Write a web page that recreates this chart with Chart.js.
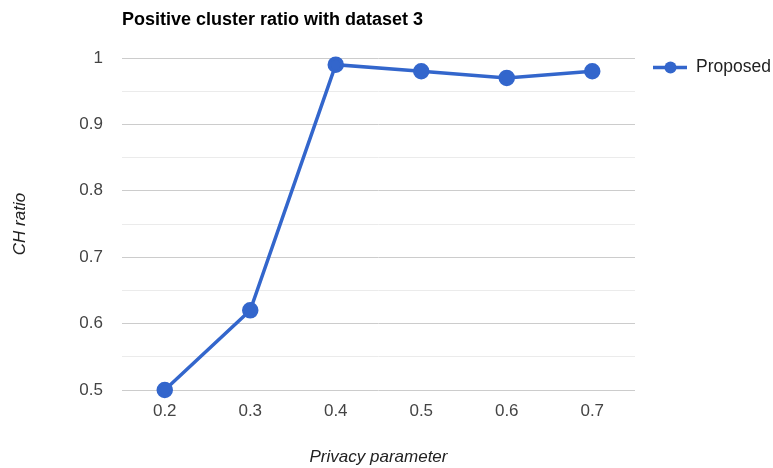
<!DOCTYPE html>
<html>
<head>
<meta charset="utf-8">
<script src="https://cdn.jsdelivr.net/npm/chart.js@4"></script>
<style>
  html, body { margin: 0; padding: 0; background: #fff; }
  #wrap { width: 773px; height: 468px; }
</style>
</head>
<body>
<div id="wrap"><canvas id="myChart"></canvas></div>
<script>
const categories = ['0.2', '0.3', '0.4', '0.5', '0.6', '0.7'];
const proposed = [0.5, 0.62, 0.99, 0.98, 0.97, 0.98];
const chartTitle = 'Positive cluster ratio with dataset 3';
const xTitle = 'Privacy parameter';
const yTitle = 'CH ratio';

// title + legend drawn by hand, google-charts style
const extras = {
    id: 'extras',
    afterDraw(chart) {
        const c = chart.ctx;
        const area = chart.chartArea;
        c.save();
        c.fillStyle = '#000';
        c.font = 'bold 18px Arial';
        c.textBaseline = 'middle';
        c.textAlign = 'left';
        c.fillText(chartTitle, area.left, 20);

        const ds = chart.data.datasets[0];
        const ly = 67.5;
        c.strokeStyle = ds.borderColor;
        c.lineWidth = 3.5;
        c.beginPath();
        c.moveTo(653, ly);
        c.lineTo(687, ly);
        c.stroke();
        c.fillStyle = ds.borderColor;
        c.beginPath();
        c.arc(670.5, ly, 6, 0, Math.PI * 2);
        c.fill();
        c.fillStyle = '#222';
        c.font = '17.5px Arial';
        c.fillText(ds.label, 696, ly);
        c.restore();
    }
};

const ctx = document.getElementById('myChart');

new Chart(ctx, {
    type: 'line',
    data: {
        labels: categories,
        datasets: [{
            label: 'Proposed',
            data: proposed,
            borderColor: '#3366cc',
            backgroundColor: '#3366cc',
            borderWidth: 3.5,
            pointRadius: 6.5,
            pointHoverRadius: 7,
            tension: 0,
            clip: false
        }]
    },
    options: {
        responsive: true,
        maintainAspectRatio: false,
        animation: false,
        layout: {
            padding: { top: 58, right: 138, left: 0, bottom: 0 }
        },
        plugins: {
            legend: { display: false },
            title: { display: false },
            tooltip: { enabled: false }
        },
        scales: {
            x: {
                offset: true,
                grid: { display: false, drawTicks: false, offset: true },
                border: { display: false },
                ticks: {
                    color: '#444',
                    font: { family: 'Arial', size: 17 },
                    padding: 11
                },
                title: {
                    display: true,
                    text: xTitle,
                    color: '#222',
                    font: { family: 'Arial', size: 17, style: 'italic' },
                    padding: { top: 0, bottom: 1 }
                },
                afterFit(scale) { scale.height = 78; }
            },
            y: {
                min: 0.5,
                max: 1,
                grid: {
                    drawTicks: false,
                    color(c) {
                        const v = Math.round(c.tick.value * 100);
                        return v % 10 === 0 ? '#cccccc' : '#ebebeb';
                    }
                },
                border: { display: false },
                ticks: {
                    stepSize: 0.05,
                    color: '#444',
                    font: { family: 'Arial', size: 17 },
                    padding: 19,
                    callback(v) {
                        const r = Math.round(v * 100);
                        return r % 10 === 0 ? String(r / 100) : '';
                    }
                },
                title: {
                    display: true,
                    text: yTitle,
                    color: '#222',
                    font: { family: 'Arial', size: 17, style: 'italic' },
                    padding: { top: 10, bottom: 0 }
                },
                afterFit(scale) { scale.width = 122; }
            }
        }
    },
    plugins: [extras]
});
</script>
</body>
</html>
